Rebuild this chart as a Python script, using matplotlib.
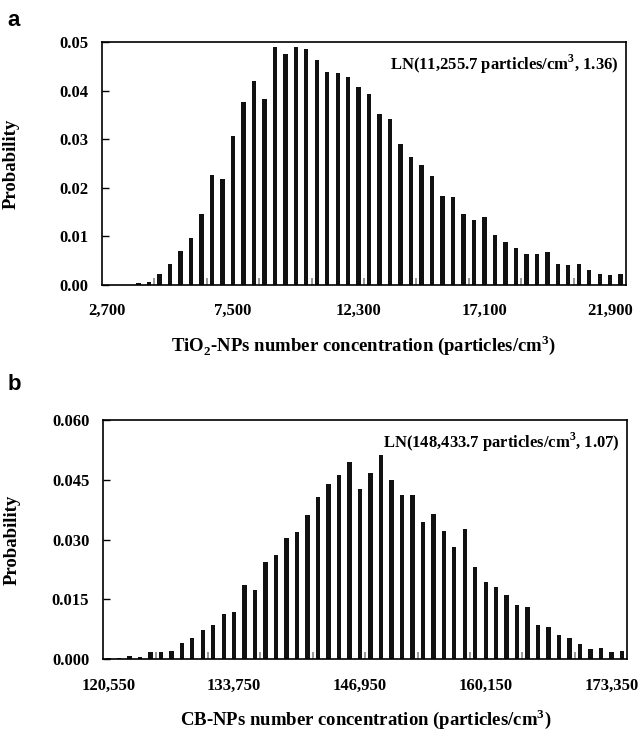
import numpy as np
import matplotlib
matplotlib.use("Agg")
import matplotlib.pyplot as plt

plt.rcParams['font.family'] = ['Liberation Serif', 'DejaVu Serif']
plt.rcParams['font.weight'] = 'bold'
plt.rcParams['mathtext.fontset'] = 'custom'
plt.rcParams['mathtext.rm'] = 'Liberation Serif:bold'
plt.rcParams['mathtext.bf'] = 'Liberation Serif:bold'

# panel a: TiO2-NPs (50 bins of 400 particles/cm3)
tio2_prob = [0.0, 0.0, 0.0, 0.0004, 0.0007, 0.0023, 0.0044, 0.0070, 0.0096, 0.0146,
             0.0226, 0.0218, 0.0307, 0.0376, 0.0419, 0.0383, 0.0489, 0.0475, 0.0489, 0.0485,
             0.0464, 0.0439, 0.0436, 0.0429, 0.0408, 0.0394, 0.0352, 0.0342, 0.0290, 0.0263,
             0.0247, 0.0224, 0.0183, 0.0181, 0.0146, 0.0133, 0.0139, 0.0102, 0.0088, 0.0077,
             0.0063, 0.0063, 0.0068, 0.0044, 0.0042, 0.0044, 0.0030, 0.0023, 0.0021, 0.0023]
tio2_labels = ['2,700', '7,500', '12,300', '17,100', '21,900']
tio2_yticks = [0.00, 0.01, 0.02, 0.03, 0.04, 0.05]

# panel b: CB-NPs (50 bins of 1,100 particles/cm3)
cb_prob = [0.0003, 0.0003, 0.0008, 0.0006, 0.0018, 0.0018, 0.0022, 0.0041, 0.0054, 0.0074,
           0.0086, 0.0114, 0.0119, 0.0187, 0.0174, 0.0245, 0.0262, 0.0305, 0.0319, 0.0362,
           0.0407, 0.0440, 0.0462, 0.0495, 0.0427, 0.0468, 0.0512, 0.0450, 0.0412, 0.0412,
           0.0344, 0.0364, 0.0322, 0.0281, 0.0326, 0.0232, 0.0194, 0.0181, 0.0161, 0.0136,
           0.0131, 0.0086, 0.0081, 0.0061, 0.0053, 0.0038, 0.0026, 0.0028, 0.0018, 0.0021]
cb_labels = ['120,550', '133,750', '146,950', '160,150', '173,350']
cb_yticks = [0.000, 0.015, 0.030, 0.045, 0.060]

fig = plt.figure(figsize=(6.41, 7.37), dpi=100)
ax1 = fig.add_axes([0.159, 0.6133, 0.8175, 0.3297])
ax2 = fig.add_axes([0.161, 0.1054, 0.8175, 0.3247])


def draw(ax, probs, labels, yticks, yfmt, xlabel, note):
    x = np.arange(len(probs))
    ax.bar(x, probs, width=0.42, color='#111111')
    ax.set_xlim(-0.5, len(probs) - 0.5)
    ax.set_ylim(yticks[0], yticks[-1])
    ax.set_xticks(x[::12])
    ax.set_xticklabels(labels, fontsize=12, fontweight='bold')
    ax.set_xticks(np.arange(4.5, len(probs) - 1, 5), minor=True)
    ax.tick_params(axis='x', which='major', length=0, pad=13)
    ax.tick_params(axis='x', which='minor', direction='in', length=5, width=1.2, color='#888888')
    ax.set_yticks(yticks)
    ax.set_yticklabels([yfmt % v for v in yticks], fontsize=12, fontweight='bold')
    ax.tick_params(axis='y', direction='in', length=5, width=1, pad=10)
    for s in ax.spines.values():
        s.set_linewidth(1.2)
    ax.set_xlabel(xlabel, fontsize=13.5, fontweight='bold', labelpad=10)
    ax.set_ylabel('Probability', fontsize=13.5, fontweight='bold')
    ax.yaxis.set_label_coords(-0.157, 0.5)
    ax.text(0.985, 0.955, note, transform=ax.transAxes, ha='right', va='top',
            fontsize=12, fontweight='bold')


draw(ax1, tio2_prob, tio2_labels, tio2_yticks, '%.2f',
     r'TiO$_\mathrm{2}$-NPs number concentration (particles/cm$^\mathrm{3}$)',
     r'LN(11,255.7 particles/cm$^\mathrm{3}$, 1.36)')
draw(ax2, cb_prob, cb_labels, cb_yticks, '%.3f',
     r'CB-NPs number concentration (particles/cm$^\mathrm{3}$)',
     r'LN(148,433.7 particles/cm$^\mathrm{3}$, 1.07)')

fig.text(0.012, 0.972, 'a', fontsize=16, fontweight='bold', family='Liberation Sans', va='center')
fig.text(0.012, 0.478, 'b', fontsize=16, fontweight='bold', family='Liberation Sans', va='center')

fig.savefig('out.png', dpi=100)
